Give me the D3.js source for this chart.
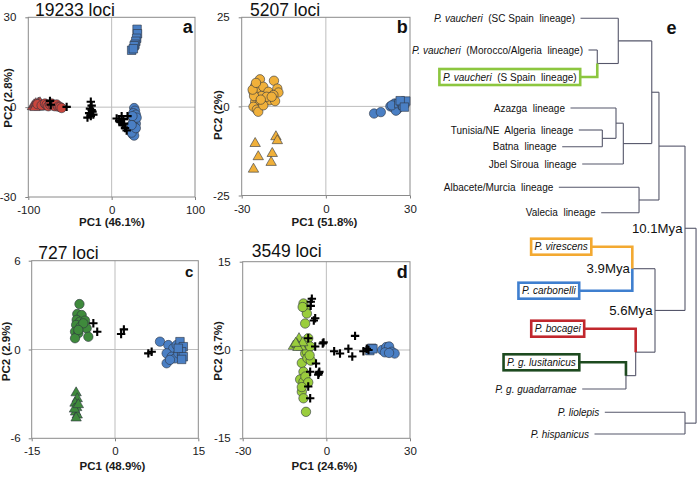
<!DOCTYPE html>
<html><head><meta charset="utf-8">
<script src="https://cdn.jsdelivr.net/npm/d3@7"></script>
<style>
body{margin:0;background:#fff}
svg{display:block;font-family:"Liberation Sans",Arial,sans-serif}
</style></head><body>
<svg id="c" width="697" height="477"></svg>
<script>
// ---------------- DATA ----------------
// Panel a (19233 loci)
const aRedTri = [[-95,0.3],[-93,0.9],[-91,1.3],[-90,0.4],[-88,1.5],[-87,0.2],[-85,1.0],[-84,0.4],[-82,0.8],[-80,0.2],[-92,0.0],[-86,1.6]];
const aRedCir = [[-89,1.0],[-84,0.6],[-80,1.2],[-78,0.8],[-76,0.3],[-74,0.9],[-72,1.2],[-70,0.5],[-68,0.3],[-66,0.9],[-64,0.2],[-62,0.1],[-60,-0.3]];
const aBlueCir = [[27,-0.3],[28,-1.2],[26,-2],[29,-2.5],[27,-3.5],[28,-4.3],[26,-5],[29,-5.5],[27,-6.5],[28,-7.3],[26,-8],[25,-9],[27,-9.5],[24,-8.5],[30,-3.5],[25,-3],[29,-7],[24,-6]];
const aBlueSq = [[30.5,26],[31,24.5],[30,23],[29,22],[28,21],[27,20.5],[24,19],[26,19.5]];
const aCross = [[-74,2.1],[-73,0.8],[-54,0.1],[-25,1.8],[-24,0.5],[-26,-0.5],[-23,-1.5],[-27,-2],[-29,-3.5],[-22,-2.5],[-25,-3],[-24,-1],
  [6,-3.8],[9,-4.5],[11,-5],[13,-6],[14,-4],[16,-7],[18,-7.8],[12,-3],[15,-5.5],[19,-3]];
// Panel b (5207 loci)
const bOrangeCir = [[-23.5,7.6],[-18.5,7.2],[-25.2,5.7],[-25.8,4.1],[-24.1,4.6],[-22.3,5.5],[-20.5,4.1],[-17.3,5.0],[-16.9,3.9],[-18.7,3.2],
  [-24.6,2.7],[-22.9,2.9],[-21.7,1.7],[-20.1,1.7],[-18.1,1.5],[-25.2,1.3],[-23.5,0.8],[-25.8,-0.1],[-24.6,-0.9],[-24.1,-1.5],[-22.3,0.3],
  [-21.1,2.7],[-25.6,2.9],[-26.1,4.7],[-19.3,2.7],[-24.9,6.6],[-23.2,1.9]];
const bOrangeTri = [[-25.2,-10.3],[-24.1,-14],[-25.8,-17.5],[-17.8,-8.4],[-17.3,-9.5],[-19.1,-13.1],[-19.5,-15.6]];
const bBlueCir = [[17.2,-2],[19.6,-1.6],[23,0],[24,-0.3],[25,0.5],[25.5,-0.8],[26,0.2],[24.5,0.8],[26.5,1],[25,-1.2],[23.5,0.3],[27,0.4]];
const bBlueSq = [[26,0.8],[27,1.2],[28,0.9],[27.5,0.3],[28.5,1.5],[26.5,1.6],[28,-0.2]];
// Panel c (727 loci)
const cGreenCir = [[-6.4,3.07],[-6.8,2.4],[-6.0,2.33],[-6.9,2.0],[-6.3,1.88],[-5.4,1.95],[-7.0,1.66],[-6.2,1.54],[-5.1,1.43],[-7.2,1.2],
  [-6.6,1.1],[-7.2,0.76],[-4.8,0.86],[-5.7,1.77],[-6.6,1.32]];
const cGreenTri = [[-7,-2.9],[-6.8,-3.3],[-7.2,-3.6],[-6.9,-3.9],[-7.1,-4.2],[-6.8,-4.4],[-7,-4.6],[-7.3,-4.0],[-6.6,-3.7]];
const cBlueCir = [[8.1,0.53],[9.6,0.3],[10.5,0.08],[9.3,-0.26],[10.2,-0.49],[10.8,-0.6],[9.3,-0.93],[9.9,-0.7],[11.4,-0.26],[11.1,0.3],[11.7,0.08]];
const cBlueSq = [[11.7,0.53],[12.3,0.19],[12,-0.15],[12.3,-0.49],[12,-0.67],[11.4,0.08]];
const cCross = [[-3.9,1.77],[-3.2,1.2],[1.1,1.05],[1.6,1.36],[6.0,-0.26],[6.6,-0.15]];
// Panel d (3549 loci)
const dLimeCir = [[-8.2,7.9],[-7.6,7.1],[-7,6.2],[-7.6,4.5],[-6.5,2],[-8.2,0.85],[-7.6,-0.6],[-8.8,-2.2],[-8.2,-3.7],[-9.4,-5],[-8.2,-5.4],
  [-8.8,-7.1],[-8.2,-8.2],[-7.3,-10.5],[-7,-0.3],[-5.8,0.6],[-6.8,-1.4],[-8.5,7.3],[-5.6,-1.8],[-6,-0.9],[-7.5,-4.5],[-6.5,-5.5],[-8.8,-6.3]];
const dLimeTri = [[-9.8,2.0],[-11.8,0.7],[-10.5,1.0],[-9,0.6],[-10.2,0.5],[-8.5,1.3],[-11,1.2]];
const dBlueSq = [[16.3,0.3],[15.6,-0.1],[16.7,0.2]];
const dBlueCir = [[20,0],[21.5,0.5],[22.5,0.6],[21,-0.4],[23.5,-0.3],[24.5,-0.6],[22.5,-0.5]];
const dCross = [[-5.2,8.7],[-5.6,7.5],[-5.6,8.2],[-4,5.4],[-4.5,5.0],[-6.5,2.0],[-4,0.6],[-1.3,1.1],[-1.0,1.3],[2.8,-0.2],[4.9,-0.6],
  [7.9,0.2],[9.3,-1.1],[10.3,2.4],[13.3,-0.2],[15.1,0],[14.5,0.2],[-3.7,-2.3],[-2.5,-3.7],[-2.9,-4.2],[-2.7,-3.9],[-5.8,-3.7],[-6.5,-6.2],[-5.8,-8.2]];

const panelTitles = ['19233 loci','5207 loci','727 loci','3549 loci'];
const panelLetters = ['a','b','c','d'];
const xLabels = ['PC1 (46.1%)','PC1 (51.8%)','PC1 (48.9%)','PC1 (24.6%)'];
const yLabels = ['PC2 (2.8%)','PC2 (2%)','PC2 (2.9%)','PC2 (3.7%)'];
const xTicks = [[-100,0,100],[-30,0,30],[-15,0,15],[-30,0,30]];
const yTicks = [[-30,0,30],[-25,0,25],[-6,0,6],[-15,0,15]];

// Tree data
const treeLeaves = [
  {id:'SC',  parts:[['P. vaucheri',1],['  (SC Spain  lineage)',0]]},
  {id:'MA',  parts:[['P. vaucheri',1],['  (Morocco/Algeria  lineage)',0]]},
  {id:'SS',  parts:[['P. vaucheri',1],['  (S Spain  lineage)',0]], color:'#8cc63f'},
  {id:'AZ',  parts:[['Azazga  lineage',0]]},
  {id:'TU',  parts:[['Tunisia/NE  Algeria  lineage',0]]},
  {id:'BA',  parts:[['Batna  lineage',0]]},
  {id:'JS',  parts:[['Jbel Siroua  lineage',0]]},
  {id:'AM',  parts:[['Albacete/Murcia  lineage',0]]},
  {id:'VA',  parts:[['Valecia  lineage',0]]},
  {id:'VI',  parts:[['P. virescens',1]], color:'#f3a931'},
  {id:'CA',  parts:[['P. carbonelli',1]], color:'#3f7fcf'},
  {id:'BO',  parts:[['P. bocagei',1]], color:'#c1272d'},
  {id:'LU',  parts:[['P. g. lusitanicus',1]], color:'#1d4a1f'},
  {id:'GU',  parts:[['P. g. guadarramae',1]]},
  {id:'LI',  parts:[['P. liolepis',1]]},
  {id:'HI',  parts:[['P. hispanicus',1]]}
];
// internal nodes: [id, children, depth (0-100 relative tree depth), age label]
const treeNodes = [
  ['vMS',['MA','SS'],14.4,null],
  ['vA',['SC','vMS'],31.9,null],
  ['tb',['TU','BA'],18.6,null],
  ['atb',['AZ','tb'],30,null],
  ['atbj',['atb','JS'],36.1,null],
  ['vAB',['vA','atbj'],59.8,null],
  ['av',['AM','VA'],49.2,null],
  ['vAll',['vAB','av'],65.8,null],
  ['vc',['VI','CA'],43.6,'3.9Mya'],
  ['lg',['LU','GU'],38.3,null],
  ['blg',['BO','lg'],46.4,null],
  ['vcb',['vc','blg'],62.5,'5.6Mya'],
  ['ing',['vAll','vcb'],87.5,'10.1Mya'],
  ['out',['LI','HI'],87.5,null],
  ['root',['ing','out'],96.7,null]
];

// ---------------- LAYOUT ----------------
const PANEL_BOX = [[28.3,17.3,195,197],[241.7,17.3,410,195.5],[31.7,260.7,198.3,438.3],[242.7,261.7,410,438.3]];
const TITLE_POS = [[35,16],[250,16],[38.3,259.3],[251.7,257]];
const LETTER_POS = [[182.7,33.3,18],[396.7,33.3,18],[185,277.3,15],[396.7,278.3,18]];
const YLAB_POS = [[7.5,98],[217.5,115],[6,351.5],[218,351]];
const XLAB_POS = [[112,226],[324.5,226],[112.5,470],[324.5,470]];
const LEAF_Y = [18.3,50,77,108,130,146.7,164,187.3,212.7,246.7,290.7,328.7,362.3,389,412.3,434];
const LEAF_END = [575,583,576.7,565,573.3,556.7,576.7,553.3,595.7,587.8,575.7,580.7,575.8,576.7,599.3,589];

const COL = {blue:'#4a7fc4', red:'#c9463d', orange:'#f0b03a', green:'#3f8a3c', lime:'#9acd3c'};

const series = [
  [{d:aRedTri,s:'tri',c:COL.red},{d:aRedCir,s:'cir',c:COL.red},{d:aBlueSq,s:'sq',c:COL.blue},{d:aBlueCir,s:'cir',c:COL.blue},{d:aCross,s:'x'}],
  [{d:bOrangeTri,s:'tri',c:COL.orange},{d:bOrangeCir,s:'cir',c:COL.orange},{d:bBlueCir,s:'cir',c:COL.blue},{d:bBlueSq,s:'sq',c:COL.blue}],
  [{d:cGreenTri,s:'tri',c:COL.green},{d:cGreenCir,s:'cir',c:COL.green},{d:cBlueCir,s:'cir',c:COL.blue},{d:cBlueSq,s:'sq',c:COL.blue},{d:cCross,s:'x'}],
  [{d:dLimeCir,s:'cir',c:COL.lime},{d:dLimeTri,s:'tri',c:COL.lime},{d:dBlueSq,s:'sq',c:COL.blue},{d:dBlueCir,s:'cir',c:COL.blue},{d:dCross,s:'x'}]
];
const xDoms = xTicks.map(t=>[t[0],t[2]]);
const yDoms = yTicks.map(t=>[t[0],t[2]]);

const svg = d3.select('#c');

const symPath = {
  tri: 'M0,-5.6L5.2,3.4L-5.2,3.4Z',
  sq: d3.symbol().type(d3.symbolSquare).size(72)(),
  x: 'M-4.2,0H4.2M0,-4.2V4.2'
};

panelTitles.forEach((title,i)=>{
  const [x0,y0,x1,y1] = PANEL_BOX[i];
  const g = svg.append('g');
  const x = d3.scaleLinear().domain(xDoms[i]).range([x0,x1]);
  const y = d3.scaleLinear().domain(yDoms[i]).range([y1,y0]);
  g.append('line').attr('x1',x(0)).attr('x2',x(0)).attr('y1',y0).attr('y2',y1).attr('stroke','#bdbdbd').attr('stroke-width',1);
  g.append('line').attr('x1',x0).attr('x2',x1).attr('y1',y(0)).attr('y2',y(0)).attr('stroke','#bdbdbd').attr('stroke-width',1);
  const fmt = d=>String(d);
  const xa = g.append('g').attr('transform',`translate(0,${y1})`)
    .call(d3.axisBottom(x).tickValues(xTicks[i]).tickSize(3).tickPadding(6).tickFormat(fmt));
  const ya = g.append('g').attr('transform',`translate(${x0},0)`)
    .call(d3.axisLeft(y).tickValues(yTicks[i]).tickSize(3).tickPadding(i===2?8:9).tickFormat(fmt));
  [xa,ya].forEach(a=>{
    a.select('.domain').remove();
    a.selectAll('line').attr('stroke','#808080');
    a.selectAll('text').attr('font-size',11.5).attr('fill','#1a1a1a').attr('font-family','"Liberation Sans",Arial,sans-serif');
  });
  g.append('rect').attr('x',x0).attr('y',y0).attr('width',x1-x0).attr('height',y1-y0)
    .attr('fill','none').attr('stroke','#8a8a8a').attr('stroke-width',1);
  series[i].forEach(s=>{
    const sel = g.append('g').selectAll('path').data(s.d).join('path')
      .attr('transform',d=>`translate(${x(d[0])},${y(d[1])})`);
    if(s.s==='cir'){
      sel.attr('d',d3.symbol().type(d3.symbolCircle).size(Math.PI*4.7*4.7)()).attr('fill',s.c).attr('stroke','#2d3440').attr('stroke-width',0.6);
    } else if(s.s==='x'){
      sel.attr('d',symPath.x).attr('fill','none').attr('stroke','#000').attr('stroke-width',2.1);
    } else {
      sel.attr('d',symPath[s.s]).attr('fill',s.c).attr('stroke','#2d3440').attr('stroke-width',0.6);
    }
  });
  g.append('text').attr('x',TITLE_POS[i][0]).attr('y',TITLE_POS[i][1]).attr('font-size',17.5).attr('fill','#111').text(title);
  g.append('text').attr('x',LETTER_POS[i][0]).attr('y',LETTER_POS[i][1]).attr('font-size',LETTER_POS[i][2]).attr('font-weight','bold').attr('fill','#111').text(panelLetters[i]);
  g.append('text').attr('transform',`translate(${YLAB_POS[i][0]},${YLAB_POS[i][1]}) rotate(-90)`)
    .attr('text-anchor','middle').attr('dy','0.35em').attr('font-size',11.5).attr('font-weight','bold').attr('fill','#1a1a1a').text(yLabels[i]);
  g.append('text').attr('x',XLAB_POS[i][0]).attr('y',XLAB_POS[i][1]).attr('text-anchor','middle')
    .attr('font-size',11.5).attr('font-weight','bold').attr('fill','#1a1a1a').text(xLabels[i]);
});

// ---------------- TREE ----------------
const tx = d3.scaleLinear().domain([0,100]).range([580,700]);
const tg = svg.append('g');
const pos = {};
const TREE_GRAY = '#55566a';
treeLeaves.forEach((lf,i)=>{
  const t = tg.append('text').attr('x',LEAF_END[i]).attr('y',LEAF_Y[i]).attr('dy','0.35em')
    .attr('text-anchor','end').attr('font-size',10).attr('fill','#111')
    .attr('xml:space','preserve').style('white-space','pre');
  lf.parts.forEach(p=>t.append('tspan').attr('font-style',p[1]?'italic':'normal').text(p[0]));
  const w = t.node().getComputedTextLength();
  let start;
  if(lf.color){
    const pad=3.5;
    tg.append('rect').attr('x',LEAF_END[i]-w-pad).attr('y',LEAF_Y[i]-8).attr('width',w+2*pad).attr('height',16)
      .attr('fill','none').attr('stroke',lf.color).attr('stroke-width',2.6);
    start = LEAF_END[i]+pad+1.3;
  } else start = LEAF_END[i]+5.5;
  pos[lf.id] = {x:start, y:LEAF_Y[i], color:lf.color};
  t.raise();
});
const lines = tg.append('g');
const colored = tg.append('g');
treeNodes.forEach(([id,ch,depth,lab])=>{
  const nx = tx(depth);
  const ys = ch.map(c=>pos[c].y);
  const ny = (ys[0]+ys[1])/2;
  lines.append('line').attr('x1',nx).attr('x2',nx).attr('y1',ys[0]).attr('y2',ys[1]).attr('stroke',TREE_GRAY).attr('stroke-width',1.1);
  ch.forEach(c=>{
    const p = pos[c];
    lines.append('line').attr('x1',p.x).attr('x2',nx).attr('y1',p.y).attr('y2',p.y).attr('stroke',TREE_GRAY).attr('stroke-width',1.1);
    if(p.color){
      colored.append('path').attr('d',`M${p.x-1.3},${p.y}H${nx}V${ny}`).attr('fill','none').attr('stroke',p.color).attr('stroke-width',2.6);
    }
  });
  pos[id] = {x:nx,y:ny};
  if(lab){
    tg.append('text').attr('x',nx-2.5).attr('y',ny).attr('dy','0.36em').attr('text-anchor','end')
      .attr('font-size',13.2).attr('fill','#111').text(lab);
  }
});
tg.append('text').attr('x',666.5).attr('y',34.3).attr('font-size',18).attr('font-weight','bold').attr('fill','#111').text('e');
</script>
</body></html>
